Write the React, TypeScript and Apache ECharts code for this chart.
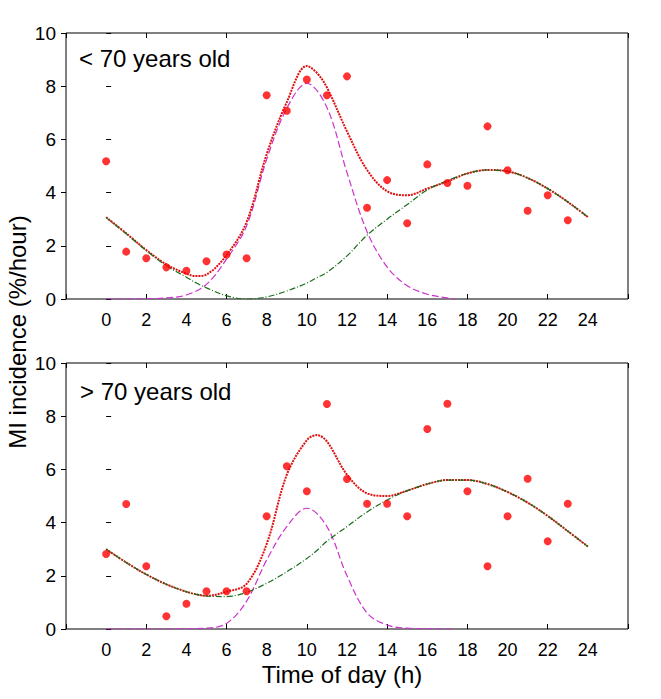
import React, { useEffect, useRef } from "react";
import * as echarts from "echarts";

// Observed hourly incidence (%/hour), hours 0..23
const observedHours = [0, 1, 2, 3, 4, 5, 6, 7, 8, 9, 10, 11, 12, 13, 14, 15, 16, 17, 18, 19, 20, 21, 22, 23];
const youngObserved = [5.18, 1.78, 1.53, 1.19, 1.06, 1.42, 1.67, 1.53, 7.66, 7.08, 8.25, 7.66, 8.37, 3.43, 4.47, 2.85, 5.06, 4.36, 4.26, 6.49, 4.84, 3.32, 3.9, 2.96];
const oldObserved = [2.82, 4.7, 2.36, 0.48, 0.95, 1.42, 1.42, 1.42, 4.24, 6.12, 5.18, 8.46, 5.64, 4.71, 4.71, 4.24, 7.52, 8.47, 5.18, 2.36, 4.24, 5.65, 3.3, 4.71];

// Fitted curves
const curveHours = [0, 1, 2, 3, 4, 4.5, 5, 6, 7, 8, 9, 10, 10.5, 11, 12, 13, 14, 15, 16, 17, 18, 19, 20, 21, 22, 23, 24];
const youngTotal = [3.07, 2.47, 1.84, 1.3, 0.95, 0.86, 0.92, 1.65, 2.9, 5.45, 7.4, 8.76, 8.5, 7.95, 6.3, 4.85, 4.05, 3.9, 4.15, 4.42, 4.72, 4.85, 4.8, 4.55, 4.15, 3.65, 3.08];
const youngCosinor = [3.06, 2.45, 1.82, 1.25, 0.82, 0.6, 0.42, 0.12, 0.0, 0.08, 0.3, 0.6, 0.8, 1.0, 1.62, 2.4, 3.0, 3.55, 4.1, 4.45, 4.72, 4.85, 4.8, 4.55, 4.15, 3.65, 3.08];
const oldTotal = [3.0, 2.5, 2.05, 1.68, 1.4, 1.3, 1.25, 1.4, 1.7, 3.2, 5.8, 7.1, 7.29, 7.05, 5.8, 5.1, 5.0, 5.2, 5.45, 5.6, 5.6, 5.45, 5.15, 4.75, 4.25, 3.68, 3.1];
const oldCosinor = [3.0, 2.5, 2.05, 1.68, 1.4, 1.3, 1.24, 1.22, 1.38, 1.72, 2.15, 2.65, 2.95, 3.3, 3.85, 4.4, 4.85, 5.2, 5.45, 5.6, 5.6, 5.45, 5.15, 4.75, 4.25, 3.68, 3.1];

const peakHours = [0, 1, 2, 3, 4, 5, 6, 7, 8, 9, 10, 11, 12, 13, 14, 15, 16, 17, 17.4];
const youngPeak = [0, 0, 0.01, 0.04, 0.15, 0.55, 1.5, 2.75, 5.25, 7.17, 8.11, 7.2, 4.75, 2.53, 1.2, 0.5, 0.18, 0.04, 0];
const oldPeak = [0, 0, 0, 0, 0.01, 0.03, 0.21, 1.05, 2.6, 3.85, 4.54, 3.85, 2.0, 0.6, 0.15, 0.03, 0.01, 0, 0];

const xTickLabels = [0, 2, 4, 6, 8, 10, 12, 14, 16, 18, 20, 22, 24];
const yTickLabels = [0, 2, 4, 6, 8, 10];
const panelTitles = ["< 70 years old", "> 70 years old"];
const yTitle = "MI incidence (%/hour)";
const xTitle = "Time of day (h)";

const FONT = "'Liberation Sans', Arial, Helvetica, sans-serif";

function pairs(xs: number[], ys: number[]) {
  return xs.map((x, i) => [x, ys[i]]);
}

export default function App() {
  const ref = useRef<HTMLDivElement>(null);
  useEffect(() => {
    if (!ref.current) return;
    const chart = echarts.init(ref.current, null, { renderer: "svg" });
    const gridTops = [33, 363];
    const grids = gridTops.map((top) => ({
      left: 66,
      top,
      width: 562,
      height: 266,
      show: true,
      borderColor: "#000",
      borderWidth: 1,
      backgroundColor: "#fff",
    }));
    const xAxes: any[] = [];
    const yAxes: any[] = [];
    gridTops.forEach((_, g) => {
      xAxes.push({
        gridIndex: g,
        type: "value",
        min: -2,
        max: 26,
        interval: 2,
        position: "bottom",
        axisLine: { show: false },
        axisTick: { show: false },
        splitLine: { show: false },
        axisLabel: {
          color: "#000",
          fontSize: 18,
          fontFamily: FONT,
          margin: 12,
          showMinLabel: true,
          showMaxLabel: true,
          formatter: (v: number) => (xTickLabels.indexOf(v) >= 0 ? String(v) : ""),
        },
      });
      ["bottom", "top"].forEach((pos) => {
        xAxes.push({
          gridIndex: g,
          type: "value",
          min: 0,
          max: 28,
          interval: 4,
          position: pos,
          axisLine: { show: false },
          axisTick: { show: true, inside: true, length: 5, lineStyle: { color: "#000", width: 1 } },
          axisLabel: { show: false },
          splitLine: { show: false },
        });
      });
      yAxes.push({
        gridIndex: g,
        type: "value",
        min: 0,
        max: 10,
        interval: 2,
        position: "left",
        axisLine: { show: false },
        axisTick: { show: true, inside: true, length: 5, lineStyle: { color: "#000", width: 1 } },
        splitLine: { show: false },
        axisLabel: {
          color: "#000",
          fontSize: 19,
          fontFamily: FONT,
          margin: 10,
          showMinLabel: true,
          showMaxLabel: true,
          formatter: (v: number) => (yTickLabels.indexOf(v) >= 0 ? String(v) : ""),
        },
      });
      yAxes.push({
        gridIndex: g,
        type: "value",
        min: 0,
        max: 10,
        interval: 2,
        position: "right",
        axisLine: { show: false },
        axisTick: { show: true, inside: true, length: 5, lineStyle: { color: "#000", width: 1 } },
        splitLine: { show: false },
        axisLabel: { show: false },
      });
    });

    const panels = [
      { total: youngTotal, cos: youngCosinor, peak: youngPeak, obs: youngObserved },
      { total: oldTotal, cos: oldCosinor, peak: oldPeak, obs: oldObserved },
    ];
    const series: any[] = [];
    panels.forEach((p, g) => {
      const xi = g * 3;
      const yi = g * 2;
      series.push({
        type: "line",
        xAxisIndex: xi,
        yAxisIndex: yi,
        data: pairs(peakHours, p.peak),
        smooth: 0.35,
        showSymbol: false,
        lineStyle: { color: "#cc33cc", width: 1.2, type: [7, 3] },
        z: 2,
      });
      series.push({
        type: "line",
        xAxisIndex: xi,
        yAxisIndex: yi,
        data: pairs(curveHours, p.total),
        smooth: 0.35,
        showSymbol: false,
        lineStyle: { color: "#e01010", width: 2, type: [2, 1] },
        z: 3,
      });
      series.push({
        type: "line",
        xAxisIndex: xi,
        yAxisIndex: yi,
        data: pairs(curveHours, p.cos),
        smooth: 0.35,
        showSymbol: false,
        lineStyle: { color: "#1a6e1a", width: 1.2, type: [6, 2, 1, 2] },
        z: 4,
      });
      series.push({
        type: "scatter",
        xAxisIndex: xi,
        yAxisIndex: yi,
        data: pairs(observedHours, p.obs),
        symbol: "circle",
        symbolSize: 8,
        itemStyle: { color: "#ff0000" },
        z: 5,
      });
    });

    chart.setOption({
      animation: false,
      backgroundColor: "#fff",
      grid: grids,
      xAxis: xAxes,
      yAxis: yAxes,
      series,
      graphic: [
        {
          type: "text",
          left: 79,
          top: 46,
          style: { text: panelTitles[0], font: `24px ${FONT}`, fill: "#000" },
        },
        {
          type: "text",
          left: 80,
          top: 379,
          style: { text: panelTitles[1], font: `24px ${FONT}`, fill: "#000" },
        },
        {
          type: "text",
          x: 17,
          y: 332,
          rotation: Math.PI / 2,
          style: {
            text: yTitle,
            font: `24px ${FONT}`,
            fill: "#000",
            align: "center",
            verticalAlign: "middle",
          },
        },
        {
          type: "text",
          x: 342,
          y: 674,
          style: {
            text: xTitle,
            font: `24px ${FONT}`,
            fill: "#000",
            align: "center",
            verticalAlign: "middle",
          },
        },
      ],
    });
    return () => chart.dispose();
  }, []);
  return (
    <div
      ref={ref}
      style={{ position: "absolute", left: 0, top: 0, width: 661, height: 699, background: "#fff" }}
    />
  );
}
